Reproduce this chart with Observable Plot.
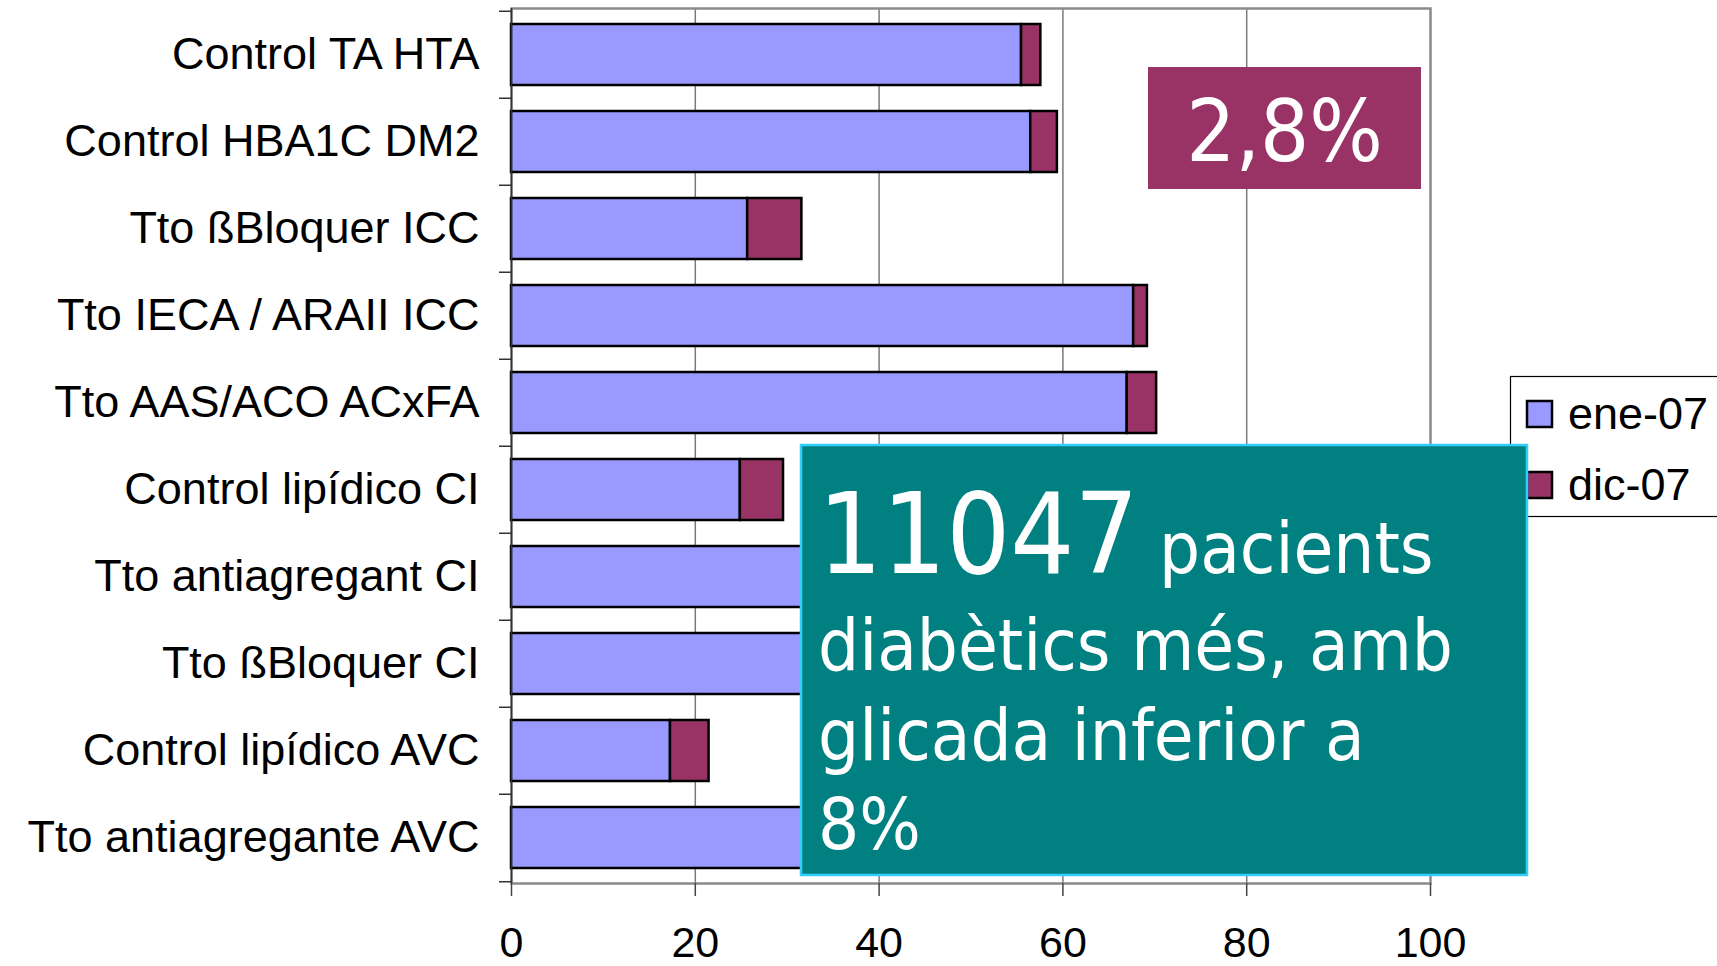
<!DOCTYPE html>
<html>
<head>
<meta charset="utf-8">
<script src="https://cdn.jsdelivr.net/npm/d3@7"></script>
<script src="https://cdn.jsdelivr.net/npm/@observablehq/plot@0.6"></script>
<style>
  html, body { margin: 0; padding: 0; background: #fff; }
  #wrap { position: relative; width: 1717px; height: 966px; overflow: hidden; }
  #wrap > svg { position: absolute; left: 0; top: 0; }
</style>
</head>
<body>
<div id="wrap"></div>
<script>
// ---- data ----
const categories = [
  "Control TA HTA",
  "Control HBA1C DM2",
  "Tto ßBloquer ICC",
  "Tto IECA / ARAII ICC",
  "Tto AAS/ACO ACxFA",
  "Control lipídico CI",
  "Tto antiagregant CI",
  "Tto ßBloquer CI",
  "Control lipídico AVC",
  "Tto antiagregante AVC"
];
const seriesNames = ["ene-07", "dic-07"];
const seriesColors = ["#9999FF", "#993366"];
// ene-07 value and the dic-07 increment stacked on top of it
const ene07 = [55.5, 56.5, 25.7, 67.7, 67.0, 24.9, 70.0, 45.0, 17.3, 68.0];
const dic07 = [2.1, 2.9, 5.9, 1.5, 3.2, 4.7, 2.5, 3.0, 4.2, 2.0];
const xTicks = [0, 20, 40, 60, 80, 100];
const gridTicks = [20, 40, 60, 80];
const badgeText = "2,8%";
const noteBig = "11047";
const noteLines = [" pacients", "diabètics més, amb", "glicada inferior a", "8%"];

// ---- long table for the stacked bars ----
const rows = [];
categories.forEach((c, i) => {
  rows.push({cat: c, series: seriesNames[0], value: ene07[i]});
  rows.push({cat: c, series: seriesNames[1], value: dic07[i]});
});

const W = 1717, H = 966;
const mTop = 8, mBottom = 83, mLeft = 511, mRight = 287;
const step = (H - mTop - mBottom) / categories.length;
const labelFont = "'Liberation Sans', Arial, sans-serif";

const chart = Plot.plot({
  width: W,
  height: H,
  marginTop: mTop,
  marginBottom: mBottom,
  marginLeft: mLeft,
  marginRight: mRight,
  style: {fontFamily: labelFont, background: "transparent", overflow: "visible"},
  x: {domain: [0, 100], label: null},
  y: {domain: categories, paddingInner: 0.3, paddingOuter: 0.15, label: null},
  color: {domain: seriesNames, range: seriesColors},
  marks: [
    Plot.gridX({ticks: gridTicks, stroke: "#7a7a7a", strokeOpacity: 1, strokeWidth: 1.5}),
    Plot.frame({stroke: "#8a8a8a", strokeWidth: 2.5}),
    Plot.barX(rows, Plot.stackX({y: "cat", x: "value", fill: "series", stroke: "#000", strokeWidth: 2.5})),
    Plot.ruleX([0], {stroke: "#333", strokeWidth: 1.5}),
    Plot.axisX({ticks: xTicks, tickSize: 13, tickPadding: 30, fontSize: 43, fill: "#000", stroke: "#444", strokeWidth: 1.5, label: null}),
    // category boundary ticks (Excel style, between bands)
    Plot.axisY({ticks: categories, tickSize: 12, dy: -step / 2, tickFormat: () => "", stroke: "#333", strokeWidth: 1.5, label: null}),
    Plot.axisY({ticks: categories.slice(-1), tickSize: 12, dy: step / 2, tickFormat: () => "", stroke: "#333", strokeWidth: 1.5, label: null}),
    Plot.axisY({tickSize: 0, tickPadding: 32, fontSize: 45, fill: "#000", label: null})
  ]
});
document.getElementById("wrap").appendChild(chart);

// ---- overlay: legend and the two annotation boxes ----
const ns = "http://www.w3.org/2000/svg";
const ov = d3.select("#wrap").append("svg")
  .attr("xmlns", ns).attr("width", W).attr("height", H);

// legend
const leg = ov.append("g");
leg.append("rect").attr("x", 1510.5).attr("y", 376.5).attr("width", 260).attr("height", 140)
  .attr("fill", "#fff").attr("stroke", "#000").attr("stroke-width", 1.2);
seriesNames.forEach((s, i) => {
  const y0 = 401 + i * 71;
  leg.append("rect").attr("x", 1527).attr("y", y0).attr("width", 25).attr("height", 26)
    .attr("fill", seriesColors[i]).attr("stroke", "#000").attr("stroke-width", 2.5);
  leg.append("text").attr("x", 1568).attr("y", y0 + 28).text(s)
    .attr("font-family", labelFont).attr("font-size", 45).attr("fill", "#000");
});

const boxFont = "'DejaVu Sans Condensed', 'DejaVu Sans', Verdana, sans-serif";

// 2,8% badge
ov.append("rect").attr("x", 1148).attr("y", 67).attr("width", 273).attr("height", 122).attr("fill", "#993366");
ov.append("text").attr("x", 1284.5).attr("y", 161).attr("text-anchor", "middle")
  .attr("font-family", boxFont).attr("font-stretch", "condensed").attr("font-size", 86).attr("fill", "#fff").text(badgeText);

// teal note
ov.append("rect").attr("x", 801).attr("y", 445).attr("width", 726).attr("height", 430)
  .attr("fill", "#008080").attr("stroke", "#33CCFF").attr("stroke-width", 2.5);
const t1 = ov.append("text").attr("x", 818).attr("y", 573)
  .attr("font-family", boxFont).attr("font-stretch", "condensed").attr("fill", "#fff");
t1.append("tspan").attr("font-size", 112).text(noteBig);
t1.append("tspan").attr("font-size", 72).text(noteLines[0]);
[670, 760, 849].forEach((by, i) => {
  ov.append("text").attr("x", 818).attr("y", by)
    .attr("font-family", boxFont).attr("font-stretch", "condensed").attr("font-size", 72).attr("fill", "#fff")
    .text(noteLines[i + 1]);
});
</script>
</body>
</html>
